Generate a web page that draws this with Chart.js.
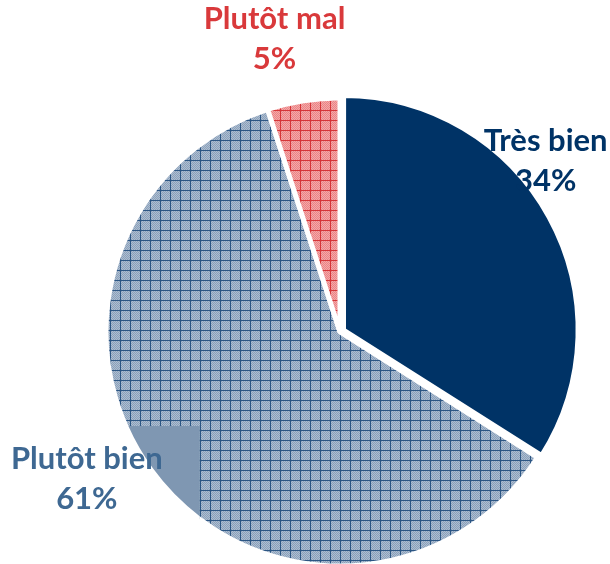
<!DOCTYPE html>
<html>
<head>
<meta charset="utf-8">
<script src="https://cdn.jsdelivr.net/npm/chart.js@4.4.0/dist/chart.umd.min.js"></script>
<style>
  html, body { margin: 0; padding: 0; background: #ffffff; }
  #wrap { width: 610px; height: 564px; }
</style>
</head>
<body>
<div id="wrap"><canvas id="myChart" width="610" height="564"></canvas></div>
<script>
var categories = ["Très bien", "Plutôt bien", "Plutôt mal"];
var values = [34, 61, 5];
var percentLabels = ["34%", "61%", "5%"];

// motif quadrillé (comme le remplissage "grille" d'Excel)
function makePattern(base, dot, line) {
    var c = document.createElement("canvas");
    c.width = 10;
    c.height = 10;
    var g = c.getContext("2d");
    g.fillStyle = base;
    g.fillRect(0, 0, 10, 10);
    g.fillStyle = dot;
    for (var y = 0; y < 10; y++) {
        for (var x = 0; x < 10; x++) {
            if ((x + y) % 2 == 0) g.fillRect(x, y, 1, 1);
        }
    }
    g.fillStyle = line;
    g.fillRect(0, 0, 10, 1);
    g.fillRect(0, 0, 1, 10);
    return g.createPattern(c, "repeat");
}

var ctx = document.getElementById("myChart").getContext("2d");
var fills = [
    "#003366",
    makePattern("#aebed1", "#8aa0ba", "#2c5684"),
    makePattern("#f5a8a8", "#e98486", "#d53538")
];
var textColors = ["#003366", "#3e6892", "#d9393b"];
// position des étiquettes, en fraction du rayon depuis le centre
var labelPlacement = [[0.879, -0.772], [-1.082, 0.586], [-0.28, -1.297]];

var labelPlugin = {
    id: "pieLabels",
    afterDatasetsDraw: function (chart) {
        var c = chart.ctx;
        var arcs = chart.getDatasetMeta(0).data;
        // zone sans motif derrière l'étiquette "Plutôt bien"
        var a = arcs[1];
        var px = a.x + labelPlacement[1][0] * a.outerRadius;
        var py = a.y + labelPlacement[1][1] * a.outerRadius;
        c.save();
        c.beginPath();
        c.rect(px - 89, py - 43, 202, 140);
        c.clip();
        c.beginPath();
        c.moveTo(a.x, a.y);
        c.arc(a.x, a.y, a.outerRadius, a.startAngle, a.endAngle);
        c.closePath();
        c.fillStyle = "#7f97b2";
        c.fill();
        c.lineWidth = 5;
        c.strokeStyle = "#ffffff";
        c.stroke();
        c.restore();

        c.save();
        c.font = "bold 31px Lato";
        c.textAlign = "center";
        c.textBaseline = "alphabetic";
        arcs.forEach(function (arc, i) {
            var x = arc.x + labelPlacement[i][0] * arc.outerRadius;
            var y = arc.y + labelPlacement[i][1] * arc.outerRadius;
            c.fillStyle = textColors[i];
            c.fillText(categories[i], x, y);
            c.fillText(percentLabels[i], x, y + 40);
        });
        c.restore();
    }
};

var myChart = new Chart(ctx, {
    type: "pie",
    data: {
        labels: categories,
        datasets: [{
            data: values,
            backgroundColor: fills,
            borderColor: "#ffffff",
            borderWidth: 5,
            offset: [16, 0, 0],
            radius: 234
        }]
    },
    options: {
        responsive: false,
        animation: false,
        rotation: 0,
        layout: { padding: { left: 110, right: 40, top: 100, bottom: 0 } },
        plugins: {
            legend: { display: false },
            tooltip: { enabled: false }
        }
    },
    plugins: [labelPlugin]
});
</script>
</body>
</html>
